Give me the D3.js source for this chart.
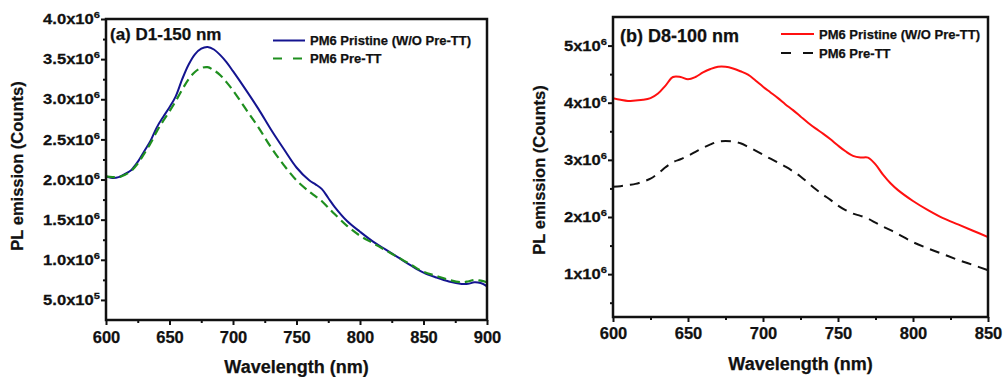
<!DOCTYPE html>
<html><head><meta charset="utf-8">
<script src="https://cdn.jsdelivr.net/npm/d3@7"></script>
<style>
body{margin:0;background:#fff}
text{font-family:"Liberation Sans",Arial,Helvetica,sans-serif;font-weight:bold;fill:#111;stroke:#111;stroke-width:0.25px}
</style>
</head><body>
<svg id="c" width="1003" height="377"></svg>
<script>
// ---------- data (counts in units of 1e6) ----------
const wlA = [600,605,610,615,620,625,630,635,640,645,650,655,660,665,670,675,680,685,690,695,700,710,720,730,740,750,760,765,770,775,780,790,800,810,820,830,840,850,860,870,880,885,890,895,900];
const pristineA = [2.04,2.02,2.03,2.07,2.12,2.22,2.35,2.48,2.65,2.78,2.90,3.04,3.25,3.43,3.56,3.63,3.65,3.62,3.55,3.46,3.35,3.12,2.88,2.62,2.38,2.15,1.99,1.94,1.88,1.77,1.66,1.48,1.35,1.23,1.13,1.03,0.93,0.84,0.78,0.73,0.70,0.70,0.72,0.71,0.67];
const preTTA = [2.04,2.03,2.03,2.06,2.11,2.20,2.32,2.45,2.60,2.73,2.85,2.98,3.12,3.25,3.34,3.39,3.40,3.36,3.30,3.21,3.11,2.88,2.65,2.40,2.18,1.99,1.85,1.79,1.73,1.65,1.57,1.42,1.30,1.21,1.12,1.03,0.94,0.85,0.80,0.75,0.72,0.73,0.75,0.74,0.72];

const wlB = [600,605,610,615,620,625,630,635,640,645,650,655,660,665,670,675,680,685,690,695,700,705,710,715,720,725,730,735,740,745,750,755,760,765,770,775,780,785,790,800,810,820,830,840,850];
const pristineB = [4.08,4.05,4.03,4.04,4.05,4.08,4.16,4.30,4.45,4.45,4.41,4.45,4.53,4.59,4.63,4.63,4.60,4.55,4.49,4.39,4.28,4.18,4.08,3.97,3.87,3.76,3.65,3.55,3.46,3.36,3.25,3.15,3.07,3.04,3.04,2.92,2.74,2.59,2.47,2.28,2.12,1.98,1.87,1.76,1.65];
const preTTB = [2.53,2.54,2.56,2.58,2.62,2.67,2.76,2.87,2.96,3.01,3.07,3.14,3.21,3.27,3.32,3.33,3.32,3.29,3.23,3.16,3.09,3.02,2.95,2.88,2.80,2.71,2.60,2.49,2.39,2.30,2.20,2.12,2.06,2.02,1.97,1.90,1.83,1.77,1.70,1.56,1.45,1.35,1.25,1.16,1.07];

const xTicksA = [600,650,700,750,800,850,900];
const xMinorA = [625,675,725,775,825,875];
const yTicksA = [0.5,1.0,1.5,2.0,2.5,3.0,3.5,4.0];
const yMinorA = [0.75,1.25,1.75,2.25,2.75,3.25,3.75];
const yTickLabelsA = [["5.0x10","5"],["1.0x10","6"],["1.5x10","6"],["2.0x10","6"],["2.5x10","6"],["3.0x10","6"],["3.5x10","6"],["4.0x10","6"]];

const xTicksB = [600,650,700,750,800,850];
const xMinorB = [625,675,725,775,825];
const yTicksB = [1,2,3,4,5];
const yMinorB = [0.5,1.5,2.5,3.5,4.5];
const yTickLabelsB = [["1x10","6"],["2x10","6"],["3x10","6"],["4x10","6"],["5x10","6"]];

const seriesNames = ["PM6 Pristine (W/O Pre-TT)","PM6 Pre-TT"];
const xTitle = "Wavelength (nm)";
const yTitle = "PL emission (Counts)";

// ---------- drawing ----------
const svg = d3.select("#c");
const SX = 1.17; // horizontal stretch of y tick labels in the reference

function panel(o){
  const x = d3.scaleLinear().domain(o.xd).range([o.L,o.R]);
  const y = d3.scaleLinear().domain(o.yd).range([o.B,o.T]);
  const g = svg.append("g");
  const cid = "clip"+o.id;
  g.append("clipPath").attr("id",cid).append("rect")
    .attr("x",o.L).attr("y",o.T).attr("width",o.R-o.L).attr("height",o.B-o.T);

  // x minor + major
  g.append("g").attr("transform",`translate(0,${o.B})`)
    .call(d3.axisBottom(x).tickValues(o.xMinor).tickSize(3).tickFormat(""))
    .call(s=>{s.select(".domain").remove(); s.selectAll("line").attr("stroke","#111").attr("stroke-width",2);});
  g.append("g").attr("transform",`translate(0,${o.B})`)
    .call(d3.axisBottom(x).tickValues(o.xTicks).tickSize(5).tickFormat(d3.format("d")))
    .call(s=>{
      s.attr("font-family",null).attr("font-size",null);
      s.select(".domain").remove();
      s.selectAll("line").attr("stroke","#111").attr("stroke-width",2);
      s.selectAll("text").attr("y",o.xLabOff).attr("dy",null)
        .attr("font-size",16.5).attr("fill","#111");
    });

  // y minor + major (labels drawn separately)
  g.append("g").attr("transform",`translate(${o.L},0)`)
    .call(d3.axisLeft(y).tickValues(o.yMinor).tickSize(3).tickFormat(""))
    .call(s=>{s.select(".domain").remove(); s.selectAll("line").attr("stroke","#111").attr("stroke-width",2);});
  g.append("g").attr("transform",`translate(${o.L},0)`)
    .call(d3.axisLeft(y).tickValues(o.yTicks).tickSize(5).tickFormat(""))
    .call(s=>{s.select(".domain").remove(); s.selectAll("line").attr("stroke","#111").attr("stroke-width",2);});

  const yl = g.append("g").selectAll("g.yl").data(o.yTicks).join("g")
    .attr("transform",d=>`translate(${o.L-6},${y(d)}) scale(${SX},1)`);
  const yt = yl.append("text").attr("text-anchor","end").attr("dy","0.36em").attr("font-size",14.2);
  yt.append("tspan").text((d,i)=>o.yLabels[i][0]);
  yt.append("tspan").attr("font-size",9.5).attr("dy",-6).text((d,i)=>o.yLabels[i][1]);

  // curves
  const line = d3.line().x(d=>x(d[0])).y(d=>y(d[1])).curve(d3.curveCatmullRom.alpha(0.5));
  o.series.forEach(s=>{
    g.append("path").attr("clip-path",`url(#${cid})`)
      .datum(o.wl.map((w,i)=>[w,s.v[i]]))
      .attr("d",line).attr("fill","none")
      .attr("stroke",s.color).attr("stroke-width",s.w)
      .attr("stroke-dasharray",s.dash||null);
  });

  // frame
  g.append("rect").attr("x",o.L).attr("y",o.T).attr("width",o.R-o.L).attr("height",o.B-o.T)
    .attr("fill","none").attr("stroke","#111").attr("stroke-width",2.5);

  // titles
  g.append("text").attr("x",(o.L+o.R)/2+o.xtDx).attr("y",o.xtY).attr("text-anchor","middle")
    .attr("font-size",18).text(xTitle);
  g.append("text").attr("transform",`translate(${o.ytX},${o.ytY}) rotate(-90)`)
    .attr("text-anchor","middle").attr("font-size",16.5).text(yTitle);
  g.append("text").attr("x",o.pl.x).attr("y",o.pl.y).attr("font-size",o.pl.fs).text(o.pl.t);

  // legend
  o.series.forEach((s,i)=>{
    const ly = o.lg.y + i*o.lg.dy;
    g.append("line").attr("x1",o.lg.x).attr("x2",o.lg.x+o.lg.len).attr("y1",ly).attr("y2",ly)
      .attr("stroke",s.color).attr("stroke-width",s.w).attr("stroke-dasharray",s.ldash||null);
    g.append("text").attr("x",o.lg.x+o.lg.len+5).attr("y",ly+4.5).attr("font-size",13).text(seriesNames[i]);
  });
}

panel({
  id:"A", L:106, R:487, T:19, B:320, xd:[600,900], yd:[0.25,4.0],
  xTicks:xTicksA, xMinor:xMinorA, yTicks:yTicksA, yMinor:yMinorA, yLabels:yTickLabelsA,
  xLabOff:23, xtDx:0, xtY:373, ytX:23, ytY:166,
  pl:{x:110,y:40,fs:17,t:"(a) D1-150 nm"},
  lg:{x:273,y:40.5,dy:18,len:32},
  wl:wlA,
  series:[
    {v:pristineA,color:"#141490",w:2},
    {v:preTTA,color:"#1f8f1f",w:2.2,dash:"9,5",ldash:"9,11"}
  ]
});

panel({
  id:"B", L:613, R:988, T:17, B:317, xd:[600,850], yd:[0.25,5.5],
  xTicks:xTicksB, xMinor:xMinorB, yTicks:yTicksB, yMinor:yMinorB, yLabels:yTickLabelsB,
  xLabOff:22, xtDx:0, xtY:370, ytX:545, ytY:170,
  pl:{x:620,y:42,fs:18,t:"(b) D8-100 nm"},
  lg:{x:781,y:34,dy:19,len:33},
  wl:wlB,
  series:[
    {v:pristineB,color:"#ff1010",w:2},
    {v:preTTB,color:"#111",w:2,dash:"10,7",ldash:"10,12"}
  ]
});
</script>
</body></html>
